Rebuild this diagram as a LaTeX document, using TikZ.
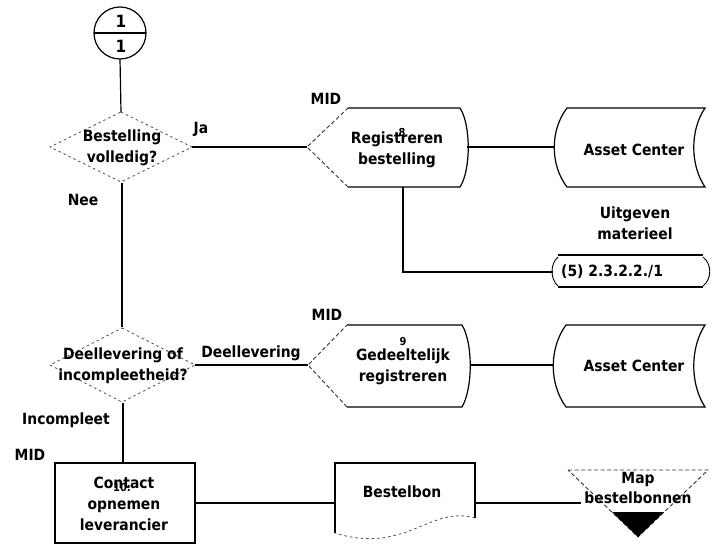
\documentclass[tikz,border=0pt]{standalone}
\usepackage{fontspec}
\setmainfont{DejaVu Sans Condensed}[BoldFont={DejaVu Sans Condensed Bold}]
\begin{document}
\begin{tikzpicture}[x=1bp,y=-1bp,
  txt/.style={font=\bfseries\fontsize{15.5}{21}\selectfont, align=center, inner sep=0pt},
  lbl/.style={font=\bfseries\fontsize{15.5}{18}\selectfont, inner sep=0pt},
  num/.style={font=\bfseries\fontsize{11}{12}\selectfont, inner sep=0pt},
  flow/.style={line width=1.2bp},
  edge/.style={line width=1.2bp},
  faint/.style={line width=0.8bp, dash pattern=on 2.5bp off 3bp, black!70},
  faintdash/.style={line width=0.9bp, dash pattern=on 4bp off 2.5bp, black!80}]
\useasboundingbox (0,0) rectangle (718,546);

% ---- off-page connector 1/1 ----
\draw[edge] (120,33) circle (26);
\draw[edge] (94,33) -- (146,33);
\node[font=\bfseries\fontsize{17}{17}\selectfont, inner sep=0pt] at (121,21) {1};
\node[font=\bfseries\fontsize{17}{17}\selectfont, inner sep=0pt] at (121,46) {1};
\coordinate (conn-s) at (120,59);

% ---- decision: Bestelling volledig? ----
\draw[faint] (121,112) -- (192,147) -- (121,182) -- (50,147) -- cycle;
\node[txt] (dec1) at (122,148) {Bestelling\\volledig?};
\coordinate (dec1-n) at (121,112);
\coordinate (dec1-e) at (192,147);
\coordinate (dec1-s) at (122,183);

% ---- 8: Registreren bestelling ----
\draw[edge] (348,108) -- (460,108) .. controls (471,125) and (471,170) .. (460,187) -- (348,187);
\draw[faintdash] (348,187) -- (307,147) -- (348,108);
\node[txt] (reg) at (397,150) {Registreren\\bestelling};
\node[num] at (402,133) {8};
\node[lbl] at (326,99) {MID};
\coordinate (reg-w) at (307,147);
\coordinate (reg-e) at (467,147);
\coordinate (reg-s) at (403,187);

% ---- Asset Center (top) ----
\draw[edge] (567,108) -- (705,108) .. controls (690,130) and (690,165) .. (705,187)
  -- (567,187) .. controls (550,165) and (550,130) .. cycle;
\node[txt] (ac1) at (634,150) {Asset Center};
\coordinate (ac1-w) at (554,147);

\node[txt] (uit) at (635,223) {Uitgeven\\materieel};

% ---- reference (5) 2.3.2.2./1 ----
\draw[edge] (558,255) -- (703,255);
\draw[edge] (558,287) -- (703,287);
\draw[line width=0.9bp] (703,257) .. controls (712,264) and (712,279) .. (703,286);
\draw[line width=0.9bp] (558,257) .. controls (550,264) and (550,279) .. (558,286);
\node[txt, anchor=west] (ref) at (561,272) {(5) 2.3.2.2./1};
\coordinate (ref-w) at (553,272);

% ---- decision: Deellevering of incompleetheid? ----
\draw[faint] (122,328) -- (195,365) -- (122,402) -- (50,365) -- cycle;
\node[txt] (dec2) at (123,366) {Deellevering of\\incompleetheid?};
\coordinate (dec2-n) at (122,327);
\coordinate (dec2-e) at (195,365);
\coordinate (dec2-s) at (123,403);

% ---- 9: Gedeeltelijk registreren ----
\draw[edge] (347,325) -- (462,325) .. controls (473,343) and (473,388) .. (462,407) -- (347,407);
\draw[faintdash] (347,407) -- (308,365) -- (347,325);
\node[txt] (ged) at (403,367) {Gedeeltelijk\\registreren};
\node[num] at (403,342) {9};
\node[lbl] at (327,315) {MID};
\coordinate (ged-w) at (308,365);
\coordinate (ged-e) at (470,365);

% ---- Asset Center (middle) ----
\draw[edge] (566,325) -- (705,325) .. controls (690,348) and (690,384) .. (705,407)
  -- (566,407) .. controls (549,384) and (549,348) .. cycle;
\node[txt] (ac2) at (634,366) {Asset Center};
\coordinate (ac2-w) at (553,365);

% ---- 10: Contact opnemen leverancier ----
\draw[edge] (55,463) rectangle (195,543);
\node[txt] (con) at (124,504) {Contact\\opnemen\\leverancier};
\node[num] at (122,488) {10:};
\node[lbl] at (30,455) {MID};
\coordinate (con-n) at (123,463);
\coordinate (con-e) at (195,503);

% ---- document: Bestelbon ----
\draw[edge] (335,533) -- (335,463) -- (475,463) -- (475,518);
\draw[faint] (475,518) .. controls (430,505) and (405,555) .. (335,533);
\node[txt] (bon) at (402,492) {Bestelbon};
\coordinate (bon-w) at (335,503);
\coordinate (bon-e) at (475,503);

% ---- file: Map bestelbonnen ----
\draw[faintdash] (568,470) -- (708,470) -- (638,537) -- cycle;
\fill (612,512) -- (664,512) -- (638,537) -- cycle;
\node[txt] (map) at (638,488) {Map\\bestelbonnen};
\coordinate (map-w) at (581,503);

% ---- labels on flows ----
\node[lbl] at (201,129) {Ja};
\node[lbl] at (83,200) {Nee};
\node[lbl] at (251,353) {Deellevering};
\node[lbl] at (66,420) {Incompleet};

% ---- connectors ----
\draw[flow] (conn-s) -- (dec1-n);
\draw[flow] (dec1-e) -- (reg-w);
\draw[flow] (reg-e) -- (ac1-w);
\draw[flow] (reg-s) |- (ref-w);
\draw[flow] (dec1-s) -- (dec2-n);
\draw[flow] (dec2-e) -- (ged-w);
\draw[flow] (ged-e) -- (ac2-w);
\draw[flow] (dec2-s) -- (con-n);
\draw[flow] (con-e) -- (bon-w);
\draw[flow] (bon-e) -- (map-w);
\end{tikzpicture}
\end{document}
